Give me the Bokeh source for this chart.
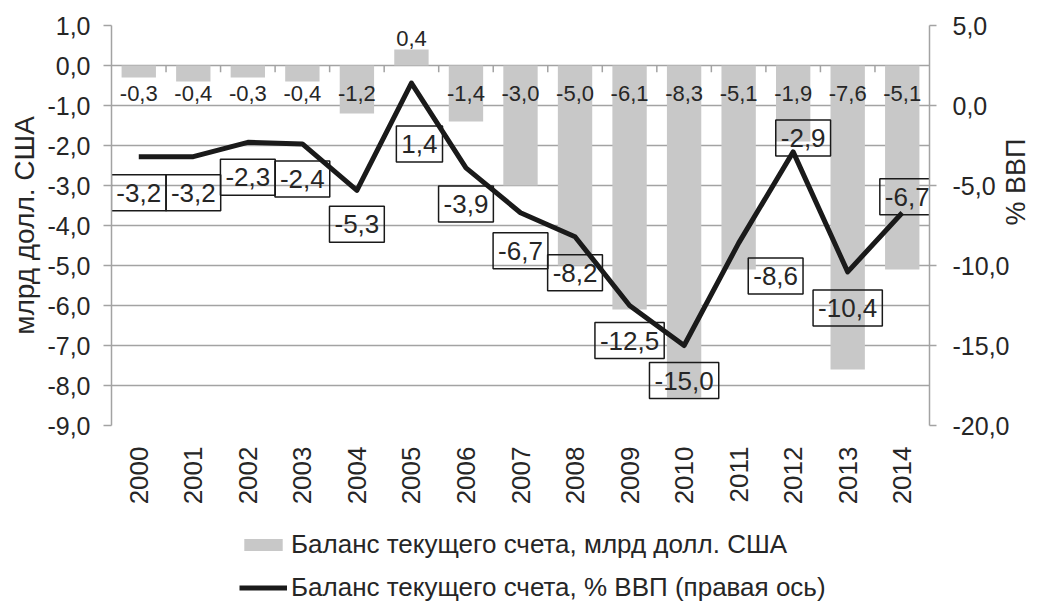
import numpy as np
from bokeh.plotting import figure
from bokeh.layouts import column
from bokeh.models import (ColumnDataSource, Range1d, LinearAxis, FixedTicker,
                          CustomJSTickFormatter, Legend, LegendItem)
from bokeh.core.properties import value
from bokeh.embed import file_html
from bokeh.resources import INLINE

years = ["2000", "2001", "2002", "2003", "2004", "2005", "2006", "2007",
         "2008", "2009", "2010", "2011", "2012", "2013", "2014"]
balance_usd = [-0.3, -0.4, -0.3, -0.4, -1.2, 0.4, -1.4, -3.0, -5.0, -6.1,
               -8.3, -5.1, -1.9, -7.6, -5.1]
balance_gdp = [-3.2, -3.2, -2.3, -2.4, -5.3, 1.4, -3.9, -6.7, -8.2, -12.5,
               -15.0, -8.6, -2.9, -10.4, -6.7]
left_ticks = [1, 0, -1, -2, -3, -4, -5, -6, -7, -8, -9]
right_ticks = [5, 0, -5, -10, -15, -20]
legend_labels = ["Баланс текущего счета, млрд долл. США",
                 "Баланс текущего счета, % ВВП (правая ось)"]

# label placement (screen px) for the boxed % labels
box_dx = [0, 0, 0, 0, 0, 8, 0, 0, 0, 0, 0, 37, 10, 0, 5]
box_dy = [36, 36, 35, 35, 34, 61, 36, 38, 36, 35, 35, 33, -14, 36, -16]

FONT = value("Liberation Sans")
TXT = "#262626"
GRID = "#a3a3a3"
BAR = "#c8c8c8"
LINE = "#1a1a1a"

def fmt(v):
    return f"{v:.1f}".replace(".", ",")

idx = list(range(len(years)))
src = ColumnDataSource(dict(
    x=idx, usd=balance_usd, gdp=balance_gdp,
    usd_lbl=[fmt(v) for v in balance_usd],
    gdp_lbl=[fmt(v) for v in balance_gdp],
    usd_ly=[v if v > 0 else 0 for v in balance_usd],
    usd_off=[-11 if v > 0 else 28 for v in balance_usd],
    dx=box_dx, dy=box_dy,
))

p = figure(frame_width=818, frame_height=400, output_backend="svg",
           toolbar_location=None, x_range=Range1d(-0.5, len(years) - 0.5),
           y_range=Range1d(-9, 1), min_border_left=111, min_border_top=25,
           min_border_bottom=80, min_border_right=10)
p.extra_y_ranges = {"pct": Range1d(-20, 5)}
p.outline_line_color = None

p.vbar(x="x", top="usd", width=0.63, source=src, fill_color=BAR,
       line_color=None)

# category tick marks on the zero line
bnd = [i + 0.5 for i in idx[:-1]]
p.segment(x0=bnd, x1=bnd, y0=[0] * len(bnd), y1=[-0.17] * len(bnd),
          line_color=GRID, line_width=1.5)

p.line(x="x", y="gdp", source=src, y_range_name="pct",
       line_color=LINE, line_width=5, line_join="round")

p.text(x="x", y="usd_ly", text="usd_lbl", source=src, y_offset="usd_off",
       text_align="center", text_baseline="middle", text_font=FONT,
       text_font_size="22px", text_color=TXT)

p.text(x="x", y="gdp", text="gdp_lbl", source=src, y_range_name="pct",
       x_offset="dx", y_offset="dy", text_align="center",
       text_baseline="middle", text_font=FONT, text_font_size="26px",
       text_color=TXT, border_line_color=LINE, border_line_width=1.5,
       padding=(5, 9), background_fill_color=None)

# axes
p.xaxis.ticker = FixedTicker(ticks=idx)
p.xaxis.major_label_overrides = {i: y for i, y in enumerate(years)}
p.xaxis.major_label_orientation = np.pi / 2
p.xaxis.axis_line_color = None
p.xaxis.major_tick_line_color = None
p.xaxis.minor_tick_line_color = None
p.xaxis.major_label_standoff = 15
p.xaxis.major_label_text_font = "Liberation Sans"
p.xaxis.major_label_text_font_size = "26px"
p.xaxis.major_label_text_color = TXT

ya = p.yaxis[0]
ya.ticker = FixedTicker(ticks=left_ticks)
ya.formatter = CustomJSTickFormatter(code="return tick.toFixed(1).replace('.', ',');")
ya.axis_line_color = GRID
ya.axis_line_width = 1.5
ya.major_tick_line_color = GRID
ya.major_tick_line_width = 1.5
ya.major_tick_out = 8
ya.major_tick_in = 0
ya.minor_tick_line_color = None
ya.major_label_standoff = 13
ya.major_label_text_font = "Liberation Sans"
ya.major_label_text_font_size = "25px"
ya.major_label_text_color = TXT
ya.axis_label = "млрд долл. США"
ya.axis_label_text_font = "Liberation Sans"
ya.axis_label_text_font_size = "28px"
ya.axis_label_text_font_style = "normal"
ya.axis_label_text_color = TXT
ya.axis_label_standoff = 4

ra = LinearAxis(y_range_name="pct", ticker=FixedTicker(ticks=right_ticks),
                formatter=CustomJSTickFormatter(
                    code="return tick.toFixed(1).replace('.', ',');"))
ra.axis_line_color = GRID
ra.axis_line_width = 1.5
ra.major_tick_line_color = GRID
ra.major_tick_line_width = 1.5
ra.major_tick_out = 7
ra.major_tick_in = 0
ra.minor_tick_line_color = None
ra.major_label_standoff = 16
ra.major_label_text_font = "Liberation Sans"
ra.major_label_text_font_size = "25px"
ra.major_label_text_color = TXT
ra.axis_label = "% ВВП"
ra.axis_label_text_font = "Liberation Sans"
ra.axis_label_text_font_size = "27px"
ra.axis_label_text_font_style = "normal"
ra.axis_label_text_color = TXT
ra.axis_label_standoff = 4
try:
    ra.axis_label_orientation = float(np.pi / 2)
except Exception:
    pass
p.add_layout(ra, "right")

p.xgrid.grid_line_color = None
p.ygrid.ticker = FixedTicker(ticks=left_ticks)
p.ygrid.grid_line_color = GRID
p.ygrid.grid_line_width = 1.5

# legend strip below the chart (its frame is aligned with the chart frame);
# the proxy renderers use the same data but sit outside this strip's ranges
lg = figure(width=1044, height=103, output_backend="svg", toolbar_location=None,
            x_range=Range1d(-100, -99), y_range=Range1d(100, 101),
            x_axis_location=None, y_axis_location=None,
            min_border_left=0, min_border_right=0, min_border_top=0,
            min_border_bottom=0)
lg.outline_line_color = None
lg.xgrid.grid_line_color = None
lg.ygrid.grid_line_color = None
r_bar = lg.vbar(x="x", top="usd", width=0.63, source=src, fill_color=BAR,
                line_color=None)
r_line = lg.line(x="x", y="gdp", source=src, line_color=LINE, line_width=5)

legend = Legend(items=[
    LegendItem(label=legend_labels[0], renderers=[r_bar]),
    LegendItem(label=legend_labels[1], renderers=[r_line]),
], location=(128, 7), orientation="vertical", border_line_color=None,
   background_fill_alpha=0, padding=0, margin=0, spacing=12,
   glyph_width=48, glyph_height=15, label_standoff=4,
   label_text_font="Liberation Sans", label_text_font_size="26px",
   label_text_color=TXT)
lg.add_layout(legend)

open("out.html", "w").write(file_html(column(p, lg, spacing=0), INLINE))
